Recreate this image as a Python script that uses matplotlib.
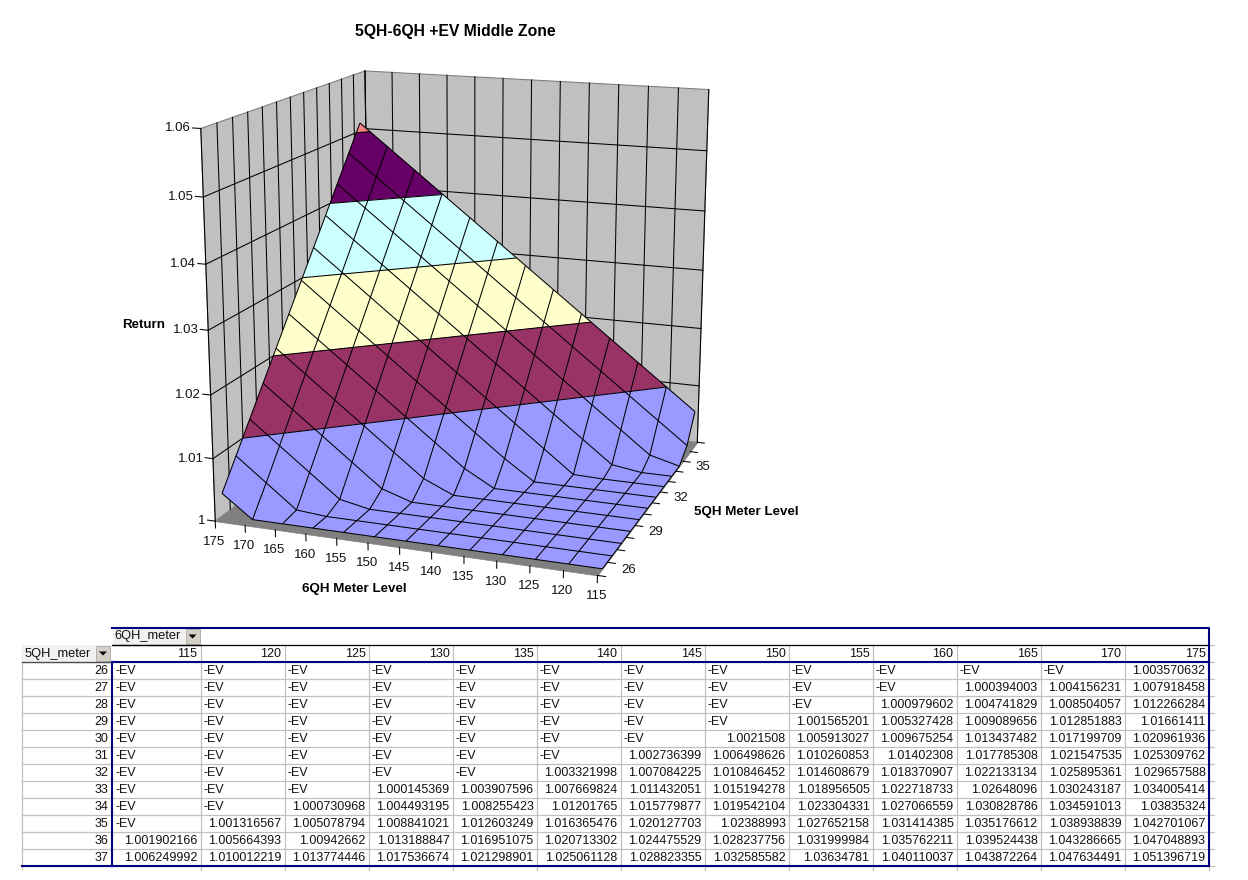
import numpy as np
import matplotlib
matplotlib.use("Agg")
import matplotlib.pyplot as plt
from matplotlib.patches import Rectangle, Polygon
from mpl_toolkits.mplot3d import proj3d
from mpl_toolkits.mplot3d.art3d import Poly3DCollection

plt.rcParams['font.family'] = ['Liberation Sans', 'DejaVu Sans']

meter6 = [115, 120, 125, 130, 135, 140, 145, 150, 155, 160, 165, 170, 175]
meter5 = [26, 27, 28, 29, 30, 31, 32, 33, 34, 35, 36, 37]
ev = "-EV"
returns = [
    [ev]*12 + [1.003570632],
    [ev]*10 + [1.000394003, 1.004156231, 1.007918458],
    [ev]*9 + [1.000979602, 1.004741829, 1.008504057, 1.012266284],
    [ev]*8 + [1.001565201, 1.005327428, 1.009089656, 1.012851883, 1.01661411],
    [ev]*7 + [1.0021508, 1.005913027, 1.009675254, 1.013437482, 1.017199709, 1.020961936],
    [ev]*6 + [1.002736399, 1.006498626, 1.010260853, 1.01402308, 1.017785308, 1.021547535, 1.025309762],
    [ev]*5 + [1.003321998, 1.007084225, 1.010846452, 1.014608679, 1.018370907, 1.022133134, 1.025895361, 1.029657588],
    [ev]*3 + [1.000145369, 1.003907596, 1.007669824, 1.011432051, 1.015194278, 1.018956505, 1.022718733, 1.02648096, 1.030243187, 1.034005414],
    [ev]*2 + [1.000730968, 1.004493195, 1.008255423, 1.01201765, 1.015779877, 1.019542104, 1.023304331, 1.027066559, 1.030828786, 1.034591013, 1.03835324],
    [ev]*1 + [1.001316567, 1.005078794, 1.008841021, 1.012603249, 1.016365476, 1.020127703, 1.02388993, 1.027652158, 1.031414385, 1.035176612, 1.038938839, 1.042701067],
    [1.001902166, 1.005664393, 1.00942662, 1.013188847, 1.016951075, 1.020713302, 1.024475529, 1.028237756, 1.031999984, 1.035762211, 1.039524438, 1.043286665, 1.047048893],
    [1.006249992, 1.010012219, 1.013774446, 1.017536674, 1.021298901, 1.025061128, 1.028823355, 1.032585582, 1.03634781, 1.040110037, 1.043872264, 1.047634491, 1.051396719],
]
band_levels = [1.0, 1.01, 1.02, 1.03, 1.04, 1.05, 1.06]
band_colors = ['#9999FF', '#993366', '#FFFFCC', '#CCFFFF', '#660066', '#FF8080']
ylabel_vals = [26, 29, 32, 35]
ztick_text = ['1', '1.01', '1.02', '1.03', '1.04', '1.05', '1.06']

fig = plt.figure(figsize=(12.48, 8.8), dpi=100)
# view fitted against the corners of the walls in the picture
ax = fig.add_axes([0.11036, 0.28337, 0.51822, 0.73494], projection='3d', computed_zorder=False)
ax.view_init(15.085, -70.016)
ax.set_proj_type('persp', focal_length=0.5499)
ax.set_box_aspect((1.0004, 0.9995, 1.0))
ax.set_axis_off()

X, Y = np.meshgrid(meter6, meter5)
# -EV cells and everything under the axis minimum sit on the floor
Z = np.array([[band_levels[0] if v == ev else v for v in row] for row in returns])


def clip_z(poly, lo, hi):
    for sign, lim in ((1, lo), (-1, hi)):
        out = []
        for i in range(len(poly)):
            p = poly[i]
            q = poly[(i + 1) % len(poly)]
            dp = sign * (p[2] - lim)
            dq = sign * (q[2] - lim)
            if dp >= 0:
                out.append(p)
            if dp * dq < 0:
                t = dp / (dp - dq)
                out.append(tuple(p[n] + t * (q[n] - p[n]) for n in range(3)))
        poly = out
        if len(poly) < 3:
            return []
    return poly


polys = []
colors = []
for r in range(len(meter5) - 1):
    for c in range(len(meter6) - 1):
        quad = [(X[r, c], Y[r, c], Z[r, c]), (X[r, c + 1], Y[r, c + 1], Z[r, c + 1]),
                (X[r + 1, c + 1], Y[r + 1, c + 1], Z[r + 1, c + 1]), (X[r + 1, c], Y[r + 1, c], Z[r + 1, c])]
        for b in range(len(band_colors)):
            piece = clip_z(quad, band_levels[b], band_levels[b + 1])
            if len(piece) >= 3 and (b == 0 or max(p[2] for p in piece) > band_levels[b]):
                polys.append(piece)
                colors.append(band_colors[b])

xa, xb = meter6[-1], meter6[0]
ya, yb = meter5[0] - 0.5, meter5[-1] + 0.5
za, zb = band_levels[0], band_levels[-1]
yedges = np.arange(ya, yb + 0.5)

walls = [
    [(xa, ya, za), (xa, yb, za), (xa, yb, zb), (xa, ya, zb)],
    [(xa, yb, za), (xb, yb, za), (xb, yb, zb), (xa, yb, zb)],
]
ax.add_collection3d(Poly3DCollection(walls, facecolors='#C0C0C0', edgecolors='#808080', linewidths=0.8, zorder=1))
ax.add_collection3d(Poly3DCollection([[(xa, ya, za), (xb, ya, za), (xb, yb, za), (xa, yb, za)]],
                                     facecolors='#808080', edgecolors='#808080', linewidths=0.5, zorder=1))
line = dict(color='black', lw=0.75, zorder=2)
for yy in yedges:
    ax.plot([xa, xa], [yy, yy], [za, zb], **line)
for xx in meter6:
    ax.plot([xx, xx], [yb, yb], [za, zb], **line)
for zz in band_levels[1:-1]:
    ax.plot([xa, xa], [ya, yb], [zz, zz], **line)
    ax.plot([xa, xb], [yb, yb], [zz, zz], **line)

ax.add_collection3d(Poly3DCollection(polys, facecolors=colors, edgecolors=colors, linewidths=0.3, zorder=3))
ax.plot_wireframe(X, Y, Z, colors='black', linewidths=0.75, zorder=4)
ax.contour(X, Y, Z, levels=band_levels[1:-1], colors='black', linewidths=0.75, zorder=4)

for xx in meter6:
    ax.plot([xx, xx], [ya, ya], [za, za - 0.0011], color='black', lw=0.75, zorder=2)
for yy in yedges:
    ax.plot([xb, xb - 1.2], [yy, yy], [za, za], color='black', lw=0.75, zorder=2)
for zz in band_levels:
    ax.plot([xa, xa + 1.3], [ya, ya], [zz, zz], color='black', lw=0.75, zorder=2)
ax.set_xlim(xa, xb)
ax.set_ylim(ya, yb)
ax.set_zlim(za, zb)
ax.apply_aspect()
M = ax.get_proj()

# everything else is laid out in picture pixels
tb = fig.add_axes([0, 0, 1, 1])
tb.set_xlim(0, 1248)
tb.set_ylim(880, 0)
tb.axis('off')


def to_pixels(x, y, z):
    vx, vy, _ = proj3d.proj_transform(x, y, z, M)
    px, py = ax.transData.transform((vx, vy))
    return px, 880 - py


for xx in meter6:
    px, py = to_pixels(xx, ya, za)
    tb.text(px - 1, py + 20.5, str(xx), ha='center', va='center', fontsize=9.5, color='#111111')
for yy in ylabel_vals:
    px, py = to_pixels(xb - 3.9, yy, za)
    tb.text(px, py - 2.5, str(yy), ha='center', va='center', fontsize=9.5, color='#111111')
for zz, txt in zip(band_levels, ztick_text):
    px, py = to_pixels(xa, ya, zz)
    tb.text(px - 9.5, py, txt, ha='right', va='center', fontsize=9.5, color='#111111')

tb.text(455, 31.5, '5QH-6QH +EV Middle Zone', ha='center', va='center', fontsize=11.3, fontweight='bold')
tb.text(144, 325, 'Return', ha='center', va='center', fontsize=9.6, fontweight='bold')
tb.text(354, 589, '6QH Meter Level', ha='center', va='center', fontsize=9.6, fontweight='bold')
tb.text(746, 512, '5QH Meter Level', ha='center', va='center', fontsize=9.6, fontweight='bold')

left = 112
first_w = 88.5
col_w = 84
row_h = 17
top_y = 628
head_y = 645
data_y = 662
edges = [left + first_w + col_w * i for i in range(len(meter6))]
bottom_y = data_y + row_h * len(meter5)
right = edges[-1]
grey = '#C0C0C0'
navy = '#000080'


def dropdown(x0, x1, y0, y1, label, tx):
    tb.add_patch(Rectangle((x0, y0), x1 - x0, y1 - y0, fc='#F1F1F1', ec='none', zorder=1))
    tb.add_patch(Rectangle((x1 - 15, y0 + 1), 14, y1 - y0 - 2, fc='#D4D0C8', ec='#A0A0A0', lw=0.5, zorder=2))
    cx = x1 - 8
    cy = (y0 + y1) / 2
    tb.add_patch(Polygon([(cx - 4, cy - 2), (cx + 4, cy - 2), (cx, cy + 2)], fc='black', ec='none', zorder=3))
    tb.plot([x0, x1], [y1, y1], color='#505050', lw=1, zorder=3)
    tb.text(tx, (y0 + y1) / 2, label, ha='left', va='center', fontsize=9.3, color='#111111', zorder=4)


for i in range(len(meter5) + 1):
    y = data_y + row_h * i
    tb.plot([22, right + 5], [y, y], color=grey, lw=0.9, zorder=1)
tb.plot([22, 22], [head_y, bottom_y + 3], color=grey, lw=0.9, zorder=1)
for e in edges:
    tb.plot([e, e], [head_y, bottom_y + 4], color=grey, lw=0.9, zorder=1)
tb.plot([right, right + 5], [head_y, head_y], color=grey, lw=0.9, zorder=1)

dropdown(left + 1, left + first_w, top_y, head_y, '6QH_meter', 114)
dropdown(22, left - 1, head_y, data_y, '5QH_meter', 25)
tb.plot([left, right], [head_y, head_y], color='black', lw=0.9, zorder=3)

for j, m in enumerate(meter6):
    tb.text(edges[j] - 3, head_y + row_h / 2 + 0.5, str(m), ha='right', va='center', fontsize=9, color='#111111')
for i, m in enumerate(meter5):
    cy = data_y + row_h * (i + 0.5) + 0.8
    tb.text(left - 4, cy, str(m), ha='right', va='center', fontsize=9, color='#111111')
    for j, v in enumerate(returns[i]):
        if v == ev:
            x0 = left if j == 0 else edges[j - 1]
            tb.text(x0 + 3, cy, v, ha='left', va='center', fontsize=9, color='#111111')
        else:
            tb.text(edges[j] - 3, cy, str(v), ha='right', va='center', fontsize=9, color='#111111')

tb.plot([left, right, right], [top_y, top_y, bottom_y], color=navy, lw=1.5, zorder=5)
tb.plot([left, right], [data_y, data_y], color=navy, lw=1.5, zorder=5)
tb.plot([left, left], [data_y, bottom_y], color=navy, lw=1.5, zorder=5)
tb.plot([22, right], [bottom_y, bottom_y], color=navy, lw=1.5, zorder=5)

fig.savefig('out.png', dpi=100)
